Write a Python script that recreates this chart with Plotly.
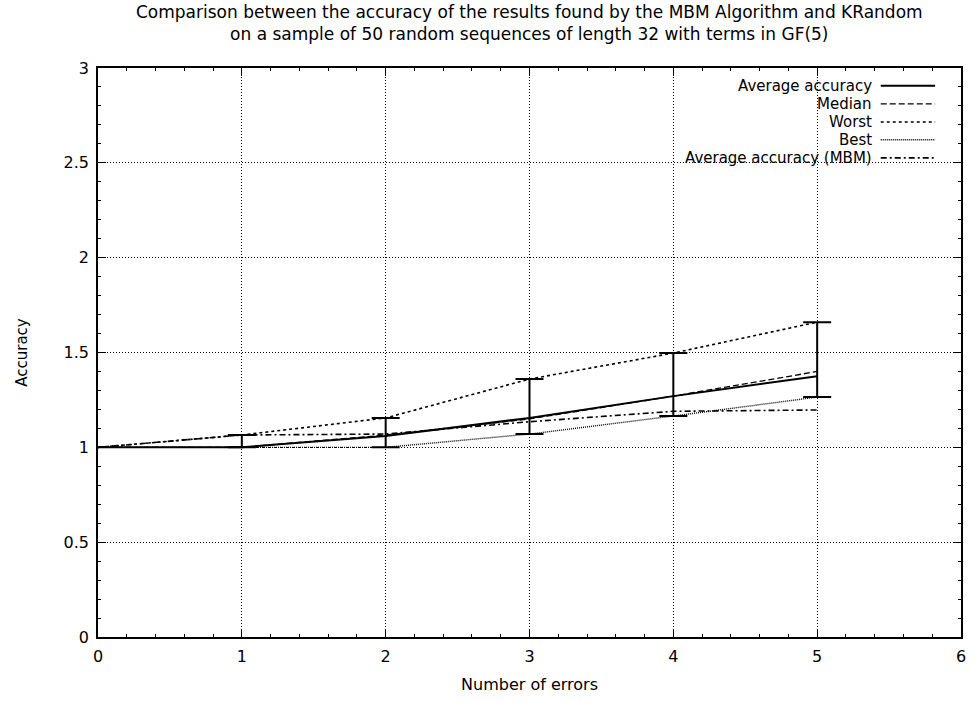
import plotly.graph_objects as go

errors = [0, 1, 2, 3, 4, 5]
average = [1.0, 1.0, 1.06, 1.155, 1.27, 1.375]
median = [1.0, 1.0, 1.065, 1.15, 1.27, 1.40]
worst = [1.0, 1.065, 1.155, 1.36, 1.497, 1.66]
best = [1.0, 1.0, 1.0, 1.07, 1.165, 1.265]
mbm = [1.0, 1.065, 1.07, 1.135, 1.19, 1.197]

names = ["Average accuracy", "Median", "Worst", "Best", "Average accuracy (MBM)"]
dashes = ["solid", "6px,3px", "3px,3px", "1px,1px", "6px,3px,2px,3px"]
widths = [2, 1.3, 1.6, 1.4, 1.6]
series = [average, median, worst, best, mbm]

FONT = "DejaVu Sans, Liberation Sans, Arial, sans-serif"

fig = go.Figure()

for name, ys, dash, w in zip(names, series, dashes, widths):
    fig.add_trace(go.Scatter(x=errors, y=ys, mode="lines", name=name,
                             line=dict(color="black", dash=dash, width=w),
                             showlegend=False))

# error bars (best..worst) around the average
fig.add_trace(go.Scatter(
    x=errors[1:], y=average[1:], mode="markers", marker=dict(size=1, color="rgba(0,0,0,0)"),
    showlegend=False,
    error_y=dict(type="data", symmetric=False,
                 array=[w - a for w, a in zip(worst[1:], average[1:])],
                 arrayminus=[a - b for a, b in zip(average[1:], best[1:])],
                 color="black", thickness=2, width=14)))

# legend drawn manually (text right-aligned, sample on the right)
row_y = [0.969, 0.937, 0.905, 0.874, 0.842]
shapes = []
annotations = []
for name, dash, w, yy in zip(names, dashes, widths, row_y):
    annotations.append(dict(xref="paper", yref="paper", x=0.899, y=yy, text=name,
                            showarrow=False, xanchor="right", yanchor="middle",
                            font=dict(size=15, color="black", family=FONT)))
    shapes.append(dict(type="line", xref="paper", yref="paper", x0=0.907, x1=0.970,
                       y0=yy, y1=yy, line=dict(color="black", dash=dash, width=w)))

title_text = ("Comparison between the accuracy of the results found by the MBM Algorithm and KRandom"
              "<br>on a sample of 50 random sequences of length 32 with terms in GF(5)")
annotations.append(dict(xref="paper", yref="paper", x=0.5, y=1.1195, text=title_text,
                        showarrow=False, xanchor="center", yanchor="top",
                        font=dict(size=17, color="black", family=FONT)))

axis_common = dict(showline=True, linecolor="black", linewidth=1.5, mirror="allticks",
                   ticks="inside", ticklen=8, tickcolor="black", tickwidth=1,
                   showgrid=True, gridcolor="black", gridwidth=1, griddash="1px,2px",
                   zeroline=False, tickfont=dict(size=16, color="black", family=FONT),
                   ticklabelstandoff=4,
                   minor=dict(ticks="inside", ticklen=3, tickcolor="black", showgrid=False))

fig.update_layout(
    width=975, height=702,
    margin=dict(l=98, r=9, t=68, b=65),
    plot_bgcolor="white", paper_bgcolor="white",
    font=dict(family=FONT, color="black"),
    xaxis=dict(range=[0, 6], dtick=1,
               title=dict(text="Number of errors", font=dict(size=16, family=FONT), standoff=14),
               **axis_common),
    yaxis=dict(range=[0, 3], dtick=0.5,
               title=dict(text="Accuracy", font=dict(size=15, family=FONT), standoff=32),
               **axis_common),
    shapes=shapes, annotations=annotations,
)
fig.update_xaxes(minor=dict(dtick=0.2))
fig.update_yaxes(minor=dict(dtick=0.1))

fig.write_html("out.html")
